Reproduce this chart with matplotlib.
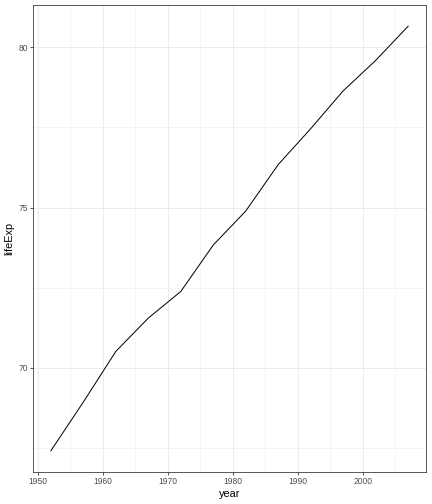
import matplotlib
matplotlib.use("Agg")
import matplotlib.pyplot as plt
from matplotlib.ticker import MultipleLocator

# France life expectancy (gapminder)
years = [1952, 1957, 1962, 1967, 1972, 1977, 1982, 1987, 1992, 1997, 2002, 2007]
life_exp = [67.41, 68.93, 70.51, 71.55, 72.38, 73.83, 74.89, 76.34, 77.46, 78.64, 79.59, 80.657]

plt.rcParams['font.family'] = ['Liberation Sans', 'DejaVu Sans']

fig = plt.figure(figsize=(6, 7), dpi=72)
ax = fig.add_axes([33 / 432, 32 / 504, 393 / 432, 467 / 504])

ax.plot(years, life_exp, color='black', lw=1.0, zorder=3)

xr = max(years) - min(years)
yr = max(life_exp) - min(life_exp)
ax.set_xlim(min(years) - 0.05 * xr, max(years) + 0.05 * xr)
ax.set_ylim(min(life_exp) - 0.05 * yr, max(life_exp) + 0.05 * yr)

ax.xaxis.set_major_locator(MultipleLocator(10))
ax.xaxis.set_minor_locator(MultipleLocator(5))
ax.yaxis.set_major_locator(MultipleLocator(5))
ax.yaxis.set_minor_locator(MultipleLocator(2.5))

ax.grid(which='major', color='#EBEBEB', lw=1.0)
ax.grid(which='minor', color='#EBEBEB', lw=0.5)
ax.set_axisbelow(True)

for s in ax.spines.values():
    s.set_color('#333333')
    s.set_linewidth(0.8)

ax.tick_params(which='major', length=3, width=0.8, color='#333333',
               labelcolor='#4D4D4D', labelsize=8.5, pad=2)
ax.tick_params(which='minor', length=0)

ax.set_xlabel('year', fontsize=11, labelpad=3)
ax.set_ylabel('lifeExp', fontsize=11, labelpad=4)

fig.savefig('out.png', dpi=72)
plt.close()
